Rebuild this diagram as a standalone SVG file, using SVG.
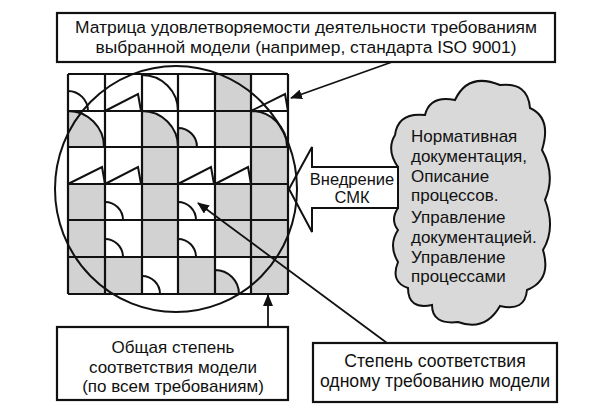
<svg xmlns="http://www.w3.org/2000/svg" width="595" height="409" viewBox="0 0 595 409">
<defs>
<style>
.t{font-family:"Liberation Sans","Noto Sans",Arial,sans-serif;fill:#111;}
.box{fill:#fff;stroke:#111;stroke-width:2.2;}
.s{fill:#d2d2d2;}
.w{fill:#fff;}
.g{fill:none;stroke:#111;stroke-width:2.2;}
.sh{fill:none;stroke:#111;stroke-width:2;}
.shs{fill:#d2d2d2;stroke:#111;stroke-width:2;}
.con{fill:none;stroke:#111;stroke-width:1.8;}
</style>
<marker id="ah" viewBox="0 0 12 10" refX="11" refY="5" markerWidth="12" markerHeight="10" markerUnits="userSpaceOnUse" orient="auto">
<path d="M0,0 L12,5 L0,10 Z" fill="#111"/>
</marker>
</defs>
<rect width="595" height="409" fill="#fff"/>

<g id="title">
<rect class="box" x="57" y="13" width="498" height="49"/>
<text class="t" x="306" y="33" font-size="17.4" text-anchor="middle">Матрица удовлетворяемости  деятельности требованиям</text>
<text class="t" x="306" y="53" font-size="17.4" text-anchor="middle">выбранной модели (например, стандарта ISO 9001)</text>
</g>

<g id="cloud">
<path d="M398,167 Q386,150 395,135 Q398,112 425,115 Q430,95 455,100 Q468,72 500,85 Q528,82 530,108 Q552,118 542,150 Q556,175 545,200 Q556,228 543,250 Q552,280 527,290 Q525,312 500,306 Q485,332 458,322 Q432,325 432,305 Q408,310 408,288 Q390,282 398,262 Q388,245 398,230 Q390,220 398,208 Q394,188 398,167 Z" fill="#d9d9d9" stroke="#111" stroke-width="2"/>
<text class="t" font-size="17" x="411"><tspan x="411" y="142">Нормативная</tspan><tspan x="411" y="162">документация,</tspan><tspan x="411" y="182">Описание</tspan><tspan x="411" y="201">процессов.</tspan><tspan x="411" y="223">Управление</tspan><tspan x="411" y="243">документацией.</tspan><tspan x="411" y="263">Управление</tspan><tspan x="411" y="282">процессами</tspan></text>
</g>

<g id="implement">
<path d="M289,189 L312,147 L312,167 L398,167 L398,208 L312,208 L312,232 Z" fill="#fff" stroke="#111" stroke-width="2"/>
<text class="t" x="352" y="185" font-size="16.5" text-anchor="middle">Внедрение</text>
<text class="t" x="352" y="203" font-size="16.5" text-anchor="middle">СМК</text>
</g>

<g id="matrix">
<!-- row 0 -->
<rect class="w" x="68" y="74" width="37" height="37"/>
<rect class="w" x="105" y="74" width="37" height="37"/>
<rect class="w" x="142" y="74" width="36" height="37"/>
<rect class="w" x="178" y="74" width="37" height="37"/>
<rect class="s" x="215" y="74" width="36" height="37"/>
<rect class="w" x="251" y="74" width="37" height="37"/>
<!-- row 1 -->
<rect class="w" x="68" y="111" width="37" height="36"/>
<rect class="w" x="105" y="111" width="37" height="36"/>
<rect class="w" x="142" y="111" width="36" height="36"/>
<rect class="w" x="178" y="111" width="37" height="36"/>
<rect class="s" x="215" y="111" width="36" height="36"/>
<rect class="w" x="251" y="111" width="37" height="36"/>
<!-- row 2 -->
<rect class="w" x="68" y="147" width="37" height="37"/>
<rect class="w" x="105" y="147" width="37" height="37"/>
<rect class="s" x="142" y="147" width="36" height="37"/>
<rect class="w" x="178" y="147" width="37" height="37"/>
<rect class="w" x="215" y="147" width="36" height="37"/>
<rect class="s" x="251" y="147" width="37" height="37"/>
<!-- row 3 -->
<rect class="s" x="68" y="184" width="37" height="36"/>
<rect class="w" x="105" y="184" width="37" height="36"/>
<rect class="s" x="142" y="184" width="36" height="36"/>
<rect class="w" x="178" y="184" width="37" height="36"/>
<rect class="s" x="215" y="184" width="36" height="36"/>
<rect class="s" x="251" y="184" width="37" height="36"/>
<!-- row 4 -->
<rect class="s" x="68" y="220" width="37" height="37"/>
<rect class="w" x="105" y="220" width="37" height="37"/>
<rect class="s" x="142" y="220" width="36" height="37"/>
<rect class="w" x="178" y="220" width="37" height="37"/>
<rect class="s" x="215" y="220" width="36" height="37"/>
<rect class="s" x="251" y="220" width="37" height="37"/>
<!-- row 5 -->
<rect class="s" x="68" y="257" width="37" height="37"/>
<rect class="s" x="105" y="257" width="37" height="37"/>
<rect class="w" x="142" y="257" width="36" height="37"/>
<rect class="s" x="178" y="257" width="37" height="37"/>
<rect class="w" x="215" y="257" width="36" height="37"/>
<rect class="s" x="251" y="257" width="37" height="37"/>

<!-- shapes -->
<path class="sh" d="M68,91 A20,20 0 0 1 88,111"/>
<path class="sh" d="M105,111 L138,94 L141,111"/>
<path class="sh" d="M142,75 A36,36 0 0 1 178,111"/>
<path class="sh" d="M251,111 L285,94 L288,111"/>

<path class="shs" d="M68,111 A36,36 0 0 1 104,147 L68,147 Z"/>
<path class="shs" d="M142,111 A36,36 0 0 1 178,147 L142,147 Z"/>
<path class="shs" d="M178,128 A19,19 0 0 1 197,147 L178,147 Z"/>
<path class="shs" d="M251,111 A36,36 0 0 1 287,147 L251,147 Z"/>

<path class="sh" d="M68,184 L102,167 L105,184"/>
<path class="sh" d="M105,184 L138,167 L141,184"/>
<path class="sh" d="M178,184 L211,167 L214,184"/>
<path class="sh" d="M215,184 L248,167 L251,184"/>

<path class="sh" d="M105,202 A18,18 0 0 1 123,220"/>
<path class="sh" d="M178,202 A18,18 0 0 1 196,220"/>
<path class="sh" d="M105,239 A18,18 0 0 1 123,257"/>
<path class="sh" d="M178,239 A18,18 0 0 1 196,257"/>
<path class="sh" d="M142,276 A18,18 0 0 1 160,294"/>
<path class="shs" d="M215,270 A24,24 0 0 1 239,294 L215,294 Z"/>

<!-- grid lines -->
<path class="g" d="M68,74 H288 M68,111 H288 M68,147 H288 M68,184 H288 M68,220 H288 M68,257 H288 M68,294 H288 M68,74 V294 M105,74 V294 M142,74 V294 M178,74 V294 M215,74 V294 M251,74 V294 M288,74 V294"/>
<ellipse cx="176" cy="189" rx="121" ry="123" fill="none" stroke="#111" stroke-width="2"/>
</g>

<g id="overall">
<rect class="box" x="57" y="327" width="231" height="73"/>
<text class="t" x="173" y="353" font-size="17" text-anchor="middle">Общая степень</text>
<text class="t" x="173" y="373" font-size="17" text-anchor="middle">соответствия  модели</text>
<text class="t" x="173" y="392" font-size="17" text-anchor="middle">(по всем требованиям)</text>
</g>

<g id="single">
<rect class="box" x="313" y="343" width="244" height="59"/>
<text class="t" x="435" y="367" font-size="17.6" text-anchor="middle">Степень соответствия</text>
<text class="t" x="435" y="387" font-size="17.6" text-anchor="middle">одному требованию модели</text>
</g>

<g id="connectors">
<line class="con" x1="392" y1="62" x2="291" y2="98" marker-end="url(#ah)"/>
<line class="con" x1="387" y1="343" x2="198" y2="203" marker-end="url(#ah)"/>
<line class="con" x1="268" y1="327" x2="268" y2="295" marker-end="url(#ah)"/>
</g>
</svg>
